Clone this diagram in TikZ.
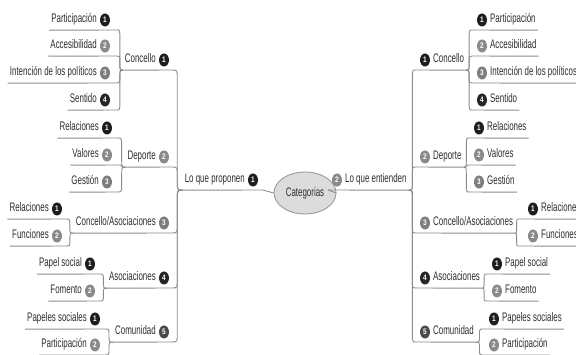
\documentclass[tikz,border=0pt]{standalone}
\usepackage{fontspec}
\setmainfont{Liberation Sans}[FakeStretch=0.64]
\newfontfamily\badgefont{Liberation Sans}[FakeStretch=0.8]
\usetikzlibrary{shapes.geometric,calc}
\definecolor{cone}{HTML}{1E1E1E}
\definecolor{ctwo}{HTML}{8A8A8A}
\definecolor{cthree}{HTML}{7D7D7D}
\definecolor{cfour}{HTML}{262626}
\definecolor{cfive}{HTML}{4A4A4A}
\definecolor{linecol}{HTML}{8C8C8C}
\definecolor{txtcol}{HTML}{2E2E2E}
\definecolor{catfill}{HTML}{DCDCDC}
\definecolor{catdraw}{HTML}{9A9A9A}
\tikzset{
  txt/.style={font=\fontsize{12.4}{13}\selectfont, text=txtcol, inner xsep=2pt, inner ysep=4pt, text height=9pt, text depth=3pt},
  badge/.style={ellipse, minimum width=10pt, minimum height=13pt, inner sep=0pt, text=white, font=\badgefont\fontsize{8}{8}\selectfont\bfseries},
  uline/.style={draw=linecol, line width=0.9pt},
  conn/.style={draw=linecol, line width=0.9pt},
  elbow/.style={to path={let \p1=(\tikztostart),\p2=(\tikztotarget) in
    (\p1) .. controls ({0.5*(\x1+\x2)},\y1) .. ({0.5*(\x1+\x2)},{\y1+ifthenelse(\y2>\y1,1,-1)*min(9,0.5*abs(\y2-\y1))})
    -- ({0.5*(\x1+\x2)},{\y2-ifthenelse(\y2>\y1,1,-1)*min(9,0.5*abs(\y2-\y1))})
    .. controls ({0.5*(\x1+\x2)},\y2) .. (\p2)}}
}
% left topic: name, text right x, y, label, number, colour, underline right x
\newcommand\LTopic[7]{%
  \node[txt,anchor=east] (#1) at ({#2+2},#3) {#4};
  \node[badge,fill=#6] (#1b) at ({#2+8},#3) {#5};
  \coordinate (#1L) at (#1.south west);
  \coordinate (#1R) at (#7,{#3+10});
  \draw[uline] (#1L) -- (#1R);
}
% right topic: name, badge x, y, label, number, colour, underline left x
\newcommand\RTopic[7]{%
  \node[badge,fill=#6] (#1b) at (#2,#3) {#5};
  \node[txt,anchor=west] (#1) at ({#2+6},#3) {#4};
  \coordinate (#1L) at (#7,{#3+10});
  \coordinate (#1R) at (#1.south east);
  \draw[uline] (#1L) -- (#1R);
}
\begin{document}
\begin{tikzpicture}[x=1pt,y=-1pt]
\useasboundingbox (0,0) rectangle (576,355);
\clip (0,0) rectangle (576,355);
\fill[white] (0,0) rectangle (576,355);

\node[ellipse, fill=catfill, draw=catdraw, line width=0.9pt, minimum width=62pt, minimum height=42pt, inner sep=0pt, font=\fontsize{12.4}{13}\selectfont, text=txtcol] (cat) at (305,193) {Categorias};

% ---------- left side ----------
\LTopic{LP}{245}{180}{Lo que proponen}{1}{cone}{263}
\LTopic{LC}{156}{60}{Concello}{1}{cone}{172}
\LTopic{LD}{156}{157}{Deporte}{2}{ctwo}{172}
\LTopic{LCA}{156}{223}{Concello/Asociaciones}{3}{cthree}{172}
\LTopic{LA}{156}{278}{Asociaciones}{4}{cfour}{172}
\LTopic{LCo}{156}{332}{Comunidad}{5}{cfive}{172}

\LTopic{LCa}{97}{20}{Participación}{1}{cone}{117}
\LTopic{LCb}{97}{46}{Accesibilidad}{2}{ctwo}{117}
\LTopic{LCc}{97}{73}{Intención de los políticos}{3}{cthree}{117}
\LTopic{LCd}{97}{100}{Sentido}{4}{cfour}{117}

\LTopic{LDa}{99}{128}{Relaciones}{1}{cone}{118}
\LTopic{LDb}{99}{155}{Valores}{2}{ctwo}{118}
\LTopic{LDc}{99}{182}{Gestión}{3}{cthree}{118}

\LTopic{LCAa}{49}{209}{Relaciones}{1}{cone}{66}
\LTopic{LCAb}{49}{236}{Funciones}{2}{ctwo}{66}

\LTopic{LAa}{82}{264}{Papel social}{1}{cone}{100}
\LTopic{LAb}{82}{291}{Fomento}{2}{ctwo}{100}

\LTopic{LCoa}{87}{319}{Papeles sociales}{1}{cone}{105}
\LTopic{LCob}{87}{345}{Participación}{2}{ctwo}{105}

\draw[conn] (LPR) -- (cat.west);
\draw[conn] (LCR) to[elbow] (LPL);
\draw[conn] (LDR) to[elbow] (LPL);
\draw[conn] (LCAR) to[elbow] (LPL);
\draw[conn] (LAR) to[elbow] (LPL);
\draw[conn] (LCoR) to[elbow] (LPL);

\draw[conn] (LCaR) to[elbow] (LCL);
\draw[conn] (LCbR) to[elbow] (LCL);
\draw[conn] (LCcR) to[elbow] (LCL);
\draw[conn] (LCdR) to[elbow] (LCL);

\draw[conn] (LDaR) to[elbow] (LDL);
\draw[conn] (LDbR) to[elbow] (LDL);
\draw[conn] (LDcR) to[elbow] (LDL);

\draw[conn] (LCAaR) to[elbow] (LCAL);
\draw[conn] (LCAbR) to[elbow] (LCAL);

\draw[conn] (LAaR) to[elbow] (LAL);
\draw[conn] (LAbR) to[elbow] (LAL);

\draw[conn] (LCoaR) to[elbow] (LCoL);
\draw[conn] (LCobR) to[elbow] (LCoL);

% ---------- right side ----------
\RTopic{RP}{337}{180}{Lo que entienden}{2}{ctwo}{328}
\RTopic{RC}{425}{60}{Concello}{1}{cone}{416}
\RTopic{RD}{425}{157}{Deporte}{2}{ctwo}{416}
\RTopic{RCA}{425}{223}{Concello/Asociaciones}{3}{cthree}{416}
\RTopic{RA}{425}{278}{Asociaciones}{4}{cfour}{416}
\RTopic{RCo}{425}{332}{Comunidad}{5}{cfive}{416}

\RTopic{RCa}{482}{20}{Participación}{1}{cone}{472}
\RTopic{RCb}{482}{46}{Accesibilidad}{2}{ctwo}{472}
\RTopic{RCc}{482}{73}{Intención de los políticos}{3}{cthree}{472}
\RTopic{RCd}{482}{100}{Sentido}{4}{cfour}{472}

\RTopic{RDa}{479}{128}{Relaciones}{1}{cone}{469}
\RTopic{RDb}{479}{155}{Valores}{2}{ctwo}{469}
\RTopic{RDc}{479}{182}{Gestión}{3}{cthree}{469}

\RTopic{RCAa}{533}{209}{Relaciones}{1}{cone}{518}
\RTopic{RCAb}{533}{236}{Funciones}{2}{ctwo}{518}

\RTopic{RAa}{497}{264}{Papel social}{1}{cone}{486}
\RTopic{RAb}{497}{291}{Fomento}{2}{ctwo}{486}

\RTopic{RCoa}{494}{319}{Papeles sociales}{1}{cone}{483}
\RTopic{RCob}{494}{345}{Participación}{2}{ctwo}{483}

\draw[conn] (cat.east) -- (RPL);
\draw[conn] (RPR) to[elbow] (RCL);
\draw[conn] (RPR) to[elbow] (RDL);
\draw[conn] (RPR) to[elbow] (RCAL);
\draw[conn] (RPR) to[elbow] (RAL);
\draw[conn] (RPR) to[elbow] (RCoL);

\draw[conn] (RCR) to[elbow] (RCaL);
\draw[conn] (RCR) to[elbow] (RCbL);
\draw[conn] (RCR) to[elbow] (RCcL);
\draw[conn] (RCR) to[elbow] (RCdL);

\draw[conn] (RDR) to[elbow] (RDaL);
\draw[conn] (RDR) to[elbow] (RDbL);
\draw[conn] (RDR) to[elbow] (RDcL);

\draw[conn] (RCAR) to[elbow] (RCAaL);
\draw[conn] (RCAR) to[elbow] (RCAbL);

\draw[conn] (RAR) to[elbow] (RAaL);
\draw[conn] (RAR) to[elbow] (RAbL);

\draw[conn] (RCoR) to[elbow] (RCoaL);
\draw[conn] (RCoR) to[elbow] (RCobL);
\end{tikzpicture}
\end{document}
